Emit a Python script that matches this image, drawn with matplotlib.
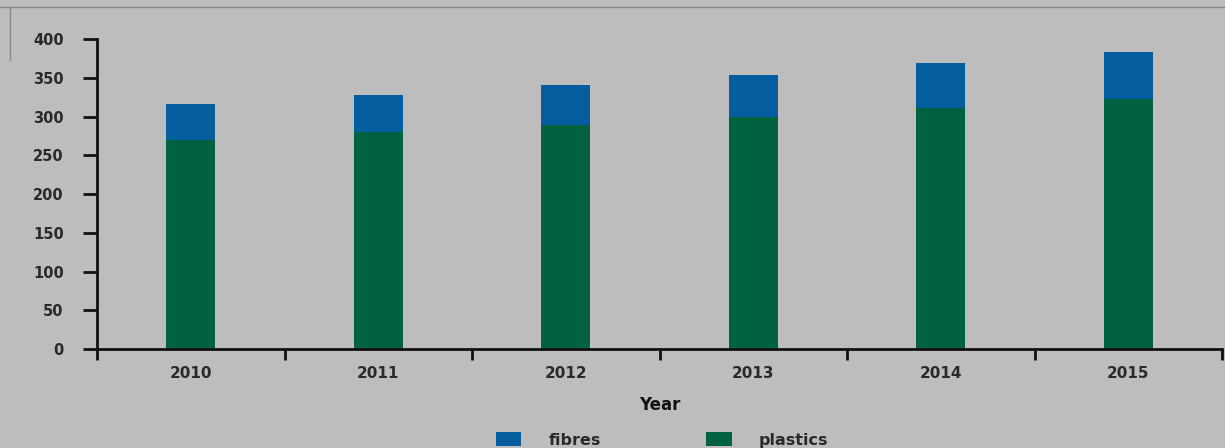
import numpy as np
import matplotlib.pyplot as plt
from matplotlib.lines import Line2D

years = ['2010', '2011', '2012', '2013', '2014', '2015']
plastics = [270, 280, 289, 299, 311, 322]
fibres = [46, 48, 51, 54, 58, 61]

bg = '#bdbdbd'
c_fibres = '#045e9e'
c_plastics = '#006240'
txt = '#2a2a2a'

plt.rcParams['font.family'] = ['DejaVu Sans']
plt.rcParams['font.weight'] = 'bold'

fig = plt.figure(figsize=(12.25, 4.48), dpi=100, facecolor=bg)
ax = fig.add_axes([97/1225, 1 - 349/448, 1125/1225, 310/448], facecolor=bg)

x = np.arange(len(years))
ax.bar(x, plastics, width=0.26, color=c_plastics, label='plastics')
ax.bar(x, fibres, width=0.26, bottom=plastics, color=c_fibres, label='fibres')

ax.set_xlim(-0.5, len(years) - 0.5)
ax.set_ylim(0, 400)
ax.set_yticks(range(0, 401, 50))

#   category labels centered, ticks on the boundaries
ax.set_xticks(x)
ax.set_xticklabels(years)
ax.set_xticks(np.arange(-0.5, len(years), 1), minor=True)
ax.tick_params(axis='x', which='major', length=0, pad=12, labelsize=11, labelcolor=txt)
ax.tick_params(axis='x', which='minor', direction='out', length=8, width=2, color='#111111')
ax.tick_params(axis='y', direction='out', length=10, width=2, pad=14, labelsize=10.5,
               color='#111111', labelcolor=txt)

for s in ['top', 'right']:
    ax.spines[s].set_visible(False)
for s in ['left', 'bottom']:
    ax.spines[s].set_linewidth(2)
    ax.spines[s].set_color('#111111')

ax.set_xlabel('Year', fontsize=12, fontweight='bold', labelpad=11, color='#111111')

# screenshot frame lines
fig.add_artist(Line2D([0, 1], [1 - 7/448, 1 - 7/448], color='#8a8a8a', lw=1))
fig.add_artist(Line2D([10/1225, 10/1225], [1 - 7/448, 1 - 60/448], color='#8a8a8a', lw=1))

handles, labels = ax.get_legend_handles_labels()
leg = fig.legend(handles[::-1], labels[::-1], loc='center', ncol=2,
                 bbox_to_anchor=(662/1225, 1 - 440/448), frameon=False,
                 fontsize=11.5, handlelength=1.6, handleheight=1.0,
                 handletextpad=1.7, columnspacing=6.6)
for t in leg.get_texts():
    t.set_color(txt)

fig.savefig('out.png', dpi=100, facecolor=bg)
